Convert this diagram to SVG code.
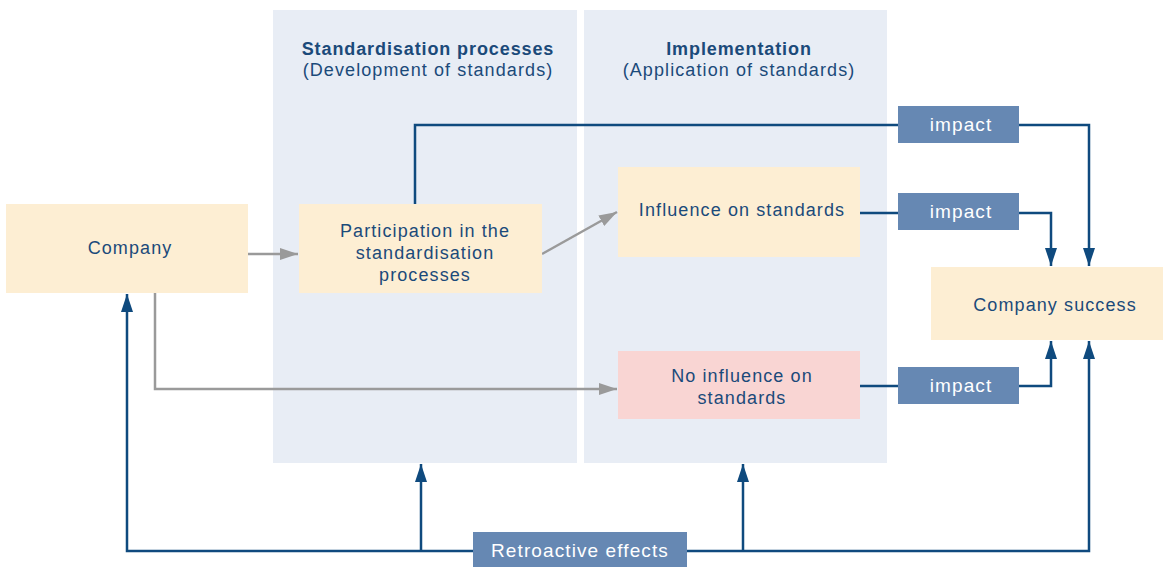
<svg xmlns="http://www.w3.org/2000/svg" width="1163" height="567" viewBox="0 0 1163 567">
<defs>
<style>
.panel{fill:#e8edf5}
.box{fill:#fdeed3}
.pink{fill:#f9d5d3}
.tag{fill:#6688b3}
.t{font-family:"Liberation Sans",Arial,sans-serif;font-size:18px;letter-spacing:1.1px;fill:#1b4a7a;text-anchor:middle}
.tb{font-weight:bold;letter-spacing:0.9px}
.tw{font-family:"Liberation Sans",Arial,sans-serif;font-size:19px;letter-spacing:1.1px;fill:#ffffff;text-anchor:middle}
.blue{fill:none;stroke:#0f4a7e;stroke-width:2.5}
.grey{fill:none;stroke:#9a9a9a;stroke-width:2.5}
</style>
<marker id="ab" viewBox="0 0 18 12" refX="18" refY="6" markerWidth="18" markerHeight="12" markerUnits="userSpaceOnUse" orient="auto"><path d="M0,0 L18,6 L0,12 Z" fill="#0f4a7e"/></marker>
<marker id="ag" viewBox="0 0 18 12" refX="18" refY="6" markerWidth="18" markerHeight="12" markerUnits="userSpaceOnUse" orient="auto"><path d="M0,0 L18,6 L0,12 Z" fill="#9a9a9a"/></marker>
</defs>
<rect width="1163" height="567" fill="#ffffff"/>
<g id="panel-standardisation">
<rect class="panel" x="273" y="10" width="304" height="453"/>
<text class="t tb" x="428" y="55">Standardisation processes</text>
<text class="t" x="428" y="76">(Development of standards)</text>
</g>
<g id="panel-implementation">
<rect class="panel" x="584" y="10" width="303" height="453"/>
<text class="t tb" x="739" y="55">Implementation</text>
<text class="t" x="739" y="76">(Application of standards)</text>
</g>
<g id="connectors">
<path class="grey" d="M248,254 H298" marker-end="url(#ag)"/>
<path class="grey" d="M542,254 L617,212" marker-end="url(#ag)"/>
<path class="grey" d="M155,293 V389 H617" marker-end="url(#ag)"/>
<path class="blue" d="M415,204 V125 H898"/>
<path class="blue" d="M1019,125 H1089 V266" marker-end="url(#ab)"/>
<path class="blue" d="M860,213 H898"/>
<path class="blue" d="M1019,213 H1051 V266" marker-end="url(#ab)"/>
<path class="blue" d="M860,386 H898"/>
<path class="blue" d="M1019,386 H1051 V341" marker-end="url(#ab)"/>
<path class="blue" d="M473,551 H127 V294" marker-end="url(#ab)"/>
<path class="blue" d="M421,551 V464" marker-end="url(#ab)"/>
<path class="blue" d="M687,551 H1089 V341" marker-end="url(#ab)"/>
<path class="blue" d="M743,551 V464" marker-end="url(#ab)"/>
</g>
<g id="company">
<rect class="box" x="6" y="204" width="242" height="89"/>
<text class="t" x="130" y="254">Company</text>
</g>
<g id="participation">
<rect class="box" x="299" y="204" width="243" height="89"/>
<text class="t" x="425" y="237">Participation in the</text>
<text class="t" x="425" y="259">standardisation</text>
<text class="t" x="425" y="281">processes</text>
</g>
<g id="influence">
<rect class="box" x="618" y="167" width="242" height="90"/>
<text class="t" x="742" y="216">Influence on standards</text>
</g>
<g id="no-influence">
<rect class="pink" x="618" y="351" width="242" height="68"/>
<text class="t" x="742" y="382">No influence on</text>
<text class="t" x="742" y="404">standards</text>
</g>
<g id="company-success">
<rect class="box" x="931" y="267" width="232" height="73"/>
<text class="t" x="1055" y="311">Company success</text>
</g>
<g id="impact-1">
<rect class="tag" x="898" y="106" width="121" height="37"/>
<text class="tw" x="961" y="131">impact</text>
</g>
<g id="impact-2">
<rect class="tag" x="898" y="193" width="121" height="37"/>
<text class="tw" x="961" y="218">impact</text>
</g>
<g id="impact-3">
<rect class="tag" x="898" y="367" width="121" height="37"/>
<text class="tw" x="961" y="392">impact</text>
</g>
<g id="retroactive">
<rect class="tag" x="473" y="532" width="214" height="35"/>
<text class="tw" x="580" y="557">Retroactive effects</text>
</g>
</svg>
